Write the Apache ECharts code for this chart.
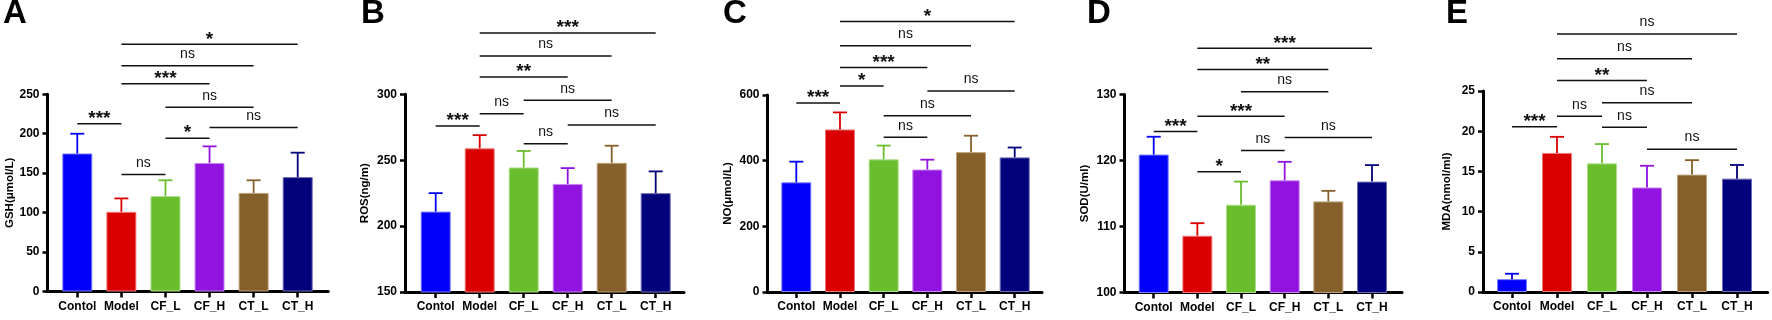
<!DOCTYPE html>
<html><head><meta charset="utf-8">
<script src="https://cdn.jsdelivr.net/npm/echarts@6/dist/echarts.min.js"></script>
<style>html,body{margin:0;padding:0;background:#fff}#c{width:1772px;height:320px}</style>
</head><body><div id="c"></div>
<script>
// ---------- data ----------
const categories = ['Contol', 'Model', 'CF_L', 'CF_H', 'CT_L', 'CT_H'];
const panelLetters = ['A', 'B', 'C', 'D', 'E'];
const yNames = ['GSH(μmol/L)', 'ROS(ng/m)', 'NO(μmol/L)', 'SOD(U/ml)', 'MDA(nmol/ml)'];
const yMin = [0, 150, 0, 100, 0];
const yMax = [250, 300, 600, 130, 25];
const yStep = [50, 50, 200, 10, 5];

const gshMean = [175, 101, 121, 163, 125, 145];
const gshSD   = [25, 17, 20, 21, 16, 31];
const rosMean = [211, 259, 244.5, 232, 248, 225];
const rosSD   = [14, 10, 12.5, 12, 13, 16.5];
const noMean  = [334, 495, 404, 373, 426, 410];
const noSD    = [63, 52, 42, 30, 50, 30];
const sodMean = [120.9, 108.6, 113.3, 117.0, 113.8, 116.8];
const sodSD   = [2.7, 1.9, 3.5, 2.8, 1.6, 2.5];
const mdaMean = [1.6, 17.3, 16.0, 13.0, 14.6, 14.1];
const mdaSD   = [0.67, 2.0, 2.4, 2.7, 1.8, 1.7];

// significance brackets: [fromIndex, toIndex, yValue, label]
const gshSig = [[0,1,212.8,'***'],[1,2,148.2,'ns'],[2,3,194.3,'*'],[3,5,207.8,'ns'],[2,4,233.5,'ns'],[1,3,263.5,'***'],[1,4,286.3,'ns'],[1,5,313.3,'*']];
const rosSig = [[0,1,275.9,'***'],[1,2,285.3,'ns'],[2,3,262.5,'ns'],[3,5,276.7,'ns'],[2,4,295.4,'ns'],[1,3,313.2,'**'],[1,4,329.1,'ns'],[1,5,346.6,'***']];
const noSig  = [[0,1,575.5,'***'],[1,2,627.6,'*'],[2,3,471.2,'ns'],[2,4,536.6,'ns'],[3,5,612.3,'ns'],[1,3,683.8,'***'],[1,4,750.3,'ns'],[1,5,823.9,'*']];
const sodSig = [[0,1,124.4,'***'],[1,2,118.3,'*'],[2,3,121.5,'ns'],[3,5,123.5,'ns'],[1,3,126.7,'***'],[2,4,130.4,'ns'],[1,4,133.8,'**'],[1,5,137.0,'***']];
const mdaSig = [[0,1,20.54,'***'],[1,2,21.86,'ns'],[2,3,20.5,'ns'],[3,5,17.77,'ns'],[2,4,23.55,'ns'],[1,3,26.32,'**'],[1,4,29.0,'ns'],[1,5,32.1,'ns']];

const means = [gshMean, rosMean, noMean, sodMean, mdaMean];
const sds = [gshSD, rosSD, noSD, sodSD, mdaSD];
const sigs = [gshSig, rosSig, noSig, sodSig, mdaSig];

// ---------- styles / layout ----------
const barColors = ['#0000FA', '#DA0000', '#6ABD2D', '#9013DF', '#85602A', '#02027A'];
const barBorders = ['#7d7dff', '#f07a7a', '#aede8c', '#c586f2', '#bca07a', '#6c6cb8'];
const FONT = '"Liberation Sans", Arial, sans-serif';
// axisX, firstCenter, spacing, axisEnd, topPx, bottomPx, nameGap, titleLeft
const layout = [
  [47.5, 77.3, 44.08, 328.3, 94.3, 291.5, 32, 3],
  [405, 435.7, 44.0, 684, 94.3, 292, 34, 361],
  [767.5, 796.3, 43.68, 1042, 95, 292, 34, 723],
  [1124.5, 1153.7, 43.66, 1402, 94.5, 292.5, 34, 1087],
  [1483, 1512, 45.0, 1767.7, 91, 292, 30, 1446]
];

const grid = [], xAxis = [], yAxis = [], series = [], title = [];
for (let p = 0; p < 5; p++) {
  const [ax, c0, sp, end, top, bot, nameGap, tl] = layout[p];
  const h = bot - top;
  grid.push({ left: c0 - sp / 2, top: top, width: sp * 6, height: h });
  grid.push({ left: ax, top: top, width: end - ax, height: h });
  const gb = 2 * p, ga = 2 * p + 1;
  xAxis.push({
    gridIndex: gb, type: 'category', data: categories,
    axisLine: { show: false },
    axisTick: { show: true, alignWithLabel: true, interval: 0, length: 6, lineStyle: { width: 2.5, color: '#000' } },
    axisLabel: { interval: 0, margin: 9, fontWeight: 'bold', fontSize: 12, color: '#000', fontFamily: FONT },
    splitLine: { show: false }
  });
  yAxis.push({ gridIndex: gb, type: 'value', min: yMin[p], max: yMax[p], interval: yStep[p], show: false });
  xAxis.push({
    gridIndex: ga, type: 'value', min: 0, max: 1,
    axisLine: { show: true, onZero: false, lineStyle: { width: 3, color: '#000' } },
    axisTick: { show: false }, axisLabel: { show: false }, splitLine: { show: false }
  });
  yAxis.push({
    gridIndex: ga, type: 'value', min: yMin[p], max: yMax[p], interval: yStep[p],
    axisLine: { show: true, onZero: false, lineStyle: { width: 3, color: '#000' } },
    axisTick: { show: true, length: 5, lineStyle: { width: 2.5, color: '#000' } },
    axisLabel: { margin: 8, fontWeight: 'bold', fontSize: 12, color: '#000', fontFamily: FONT },
    splitLine: { show: false },
    name: yNames[p], nameLocation: 'middle', nameGap: nameGap,
    nameTextStyle: { fontWeight: 'bold', fontSize: 11.5, color: '#000', fontFamily: FONT }
  });
  series.push({
    type: 'bar', xAxisIndex: gb, yAxisIndex: gb, barWidth: 30, silent: true,
    data: means[p].map((v, i) => ({ value: v, itemStyle: { color: barColors[i], borderColor: barBorders[i], borderWidth: 1 } }))
  });
  series.push({
    type: 'custom', xAxisIndex: gb, yAxisIndex: gb, silent: true, clip: false, z: 3,
    data: means[p].map((m, i) => [i, m, sds[p][i]]),
    renderItem: function (params, api) {
      const x = api.value(0), m = api.value(1), s = api.value(2);
      const p0 = api.coord([x, m]), p1 = api.coord([x, m + s]);
      const col = barColors[params.dataIndex];
      return { type: 'group', children: [
        { type: 'line', shape: { x1: p0[0], y1: p0[1], x2: p1[0], y2: p1[1] }, style: { stroke: col, lineWidth: 1.8 } },
        { type: 'line', shape: { x1: p1[0] - 7, y1: p1[1], x2: p1[0] + 7, y2: p1[1] }, style: { stroke: col, lineWidth: 1.8 } }
      ] };
    }
  });
  const sig = sigs[p];
  series.push({
    type: 'custom', xAxisIndex: gb, yAxisIndex: gb, silent: true, clip: false, z: 4,
    data: sig.map(s => [s[0], s[1], s[2]]),
    renderItem: function (params, api) {
      const a = api.coord([api.value(0), api.value(2)]);
      const b = api.coord([api.value(1), api.value(2)]);
      const lab = sig[params.dataIndex][3];
      const star = lab !== 'ns';
      return { type: 'group', children: [
        { type: 'line', shape: { x1: a[0], y1: a[1], x2: b[0], y2: a[1] }, style: { stroke: '#111', lineWidth: 1.5 } },
        { type: 'text', x: (a[0] + b[0]) / 2, y: a[1] - (star ? 5 : 11.5),
          style: { text: lab, align: 'center', verticalAlign: 'middle', fill: '#111',
            font: (star ? 'bold 19px ' : '14px ') + FONT } }
      ] };
    }
  });
  title.push({ text: panelLetters[p], left: tl, top: -3, padding: 0,
    textStyle: { fontSize: 33, fontWeight: 'bold', color: '#000', fontFamily: FONT } });
}

const chart = echarts.init(document.getElementById('c'), null, { renderer: 'canvas' });
chart.setOption({ animation: false, backgroundColor: '#fff', title, grid, xAxis, yAxis, series });
</script>
</body></html>
